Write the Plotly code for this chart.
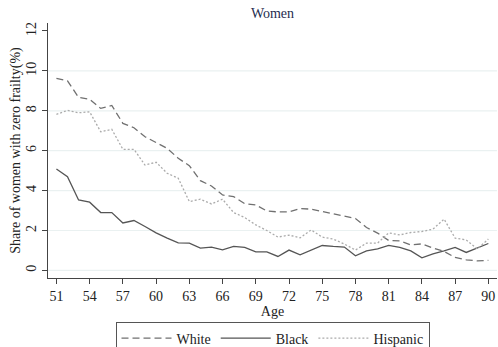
import plotly.graph_objects as go

ages = list(range(51, 91))

white = [9.62, 9.50, 8.67, 8.58, 8.12, 8.27, 7.37, 7.15, 6.70, 6.42,
         6.12, 5.62, 5.25, 4.50, 4.23, 3.78, 3.70, 3.35, 3.28, 2.98,
         2.93, 2.93, 3.10, 3.07, 2.95, 2.82, 2.70, 2.60, 2.15, 1.87,
         1.50, 1.48, 1.28, 1.33, 1.12, 0.95, 0.65, 0.53, 0.48, 0.50]

black = [5.08, 4.70, 3.53, 3.42, 2.90, 2.90, 2.38, 2.50, 2.20, 1.88,
         1.62, 1.38, 1.37, 1.12, 1.17, 1.03, 1.20, 1.15, 0.93, 0.93,
         0.70, 1.02, 0.78, 1.02, 1.25, 1.20, 1.17, 0.73, 0.98, 1.08,
         1.25, 1.15, 0.98, 0.63, 0.83, 0.98, 1.15, 0.90, 1.12, 1.35]

hispanic = [7.82, 8.02, 7.90, 7.95, 6.95, 7.07, 6.07, 6.07, 5.28, 5.42,
            4.87, 4.62, 3.45, 3.57, 3.33, 3.57, 2.90, 2.65, 2.28, 2.00,
            1.67, 1.77, 1.63, 2.03, 1.67, 1.57, 1.32, 1.02, 1.37, 1.37,
            1.88, 1.78, 1.90, 1.95, 2.07, 2.57, 1.62, 1.53, 1.08, 1.57]

x_ticks = list(range(51, 91, 3))
y_ticks = [0, 2, 4, 6, 8, 10, 12]
grid_levels = [0, 2, 4, 6, 8, 10]

FONT = "Liberation Serif, Times New Roman, serif"

fig = go.Figure()
fig.add_trace(go.Scatter(x=ages, y=white, mode="lines", name="White",
                         line=dict(color="#707070", width=1.3, dash="7px,4px")))
fig.add_trace(go.Scatter(x=ages, y=black, mode="lines", name="Black",
                         line=dict(color="#555555", width=1.3)))
fig.add_trace(go.Scatter(x=ages, y=hispanic, mode="lines", name="Hispanic",
                         line=dict(color="#ababab", width=1.3, dash="2px,2px")))

# light horizontal grid lines behind the data
for g in grid_levels:
    fig.add_shape(type="line", xref="paper", x0=0, x1=1, yref="y", y0=g, y1=g,
                  line=dict(color="#eaf1f1", width=1.2), layer="below")

fig.update_layout(
    width=498, height=347,
    margin=dict(l=48, r=1, t=23, b=69, autoexpand=False),
    paper_bgcolor="white", plot_bgcolor="white",
    font=dict(family=FONT, size=14, color="#222222"),
    title=dict(text="Women", x=0.5, xref="paper", xanchor="center",
               y=1 - 13 / 347, yanchor="middle",
               font=dict(family=FONT, size=14, color="#1f2d50")),
    showlegend=True,
    legend=dict(orientation="h", x=0.5, xanchor="center", y=-0.171, yanchor="top",
                bordercolor="#555555", borderwidth=1, bgcolor="white",
                font=dict(family=FONT, size=14, color="#222222"),
                itemwidth=50, traceorder="normal"),
    xaxis=dict(range=[50.24, 90.78], tickvals=x_ticks, ticks="outside", ticklen=5,
               tickcolor="#444444", showline=True, linecolor="#444444", linewidth=1,
               showgrid=False, zeroline=False,
               title=dict(text="Age", standoff=2, font=dict(family=FONT, size=14))),
    yaxis=dict(range=[-0.38, 12.4], tickvals=y_ticks, ticks="outside", ticklen=5,
               tickcolor="#444444", showline=True, linecolor="#444444", linewidth=1,
               tickangle=-90, showgrid=False, zeroline=False,
               title=dict(text="Share of women with zero frailty(%)", standoff=0,
                          font=dict(family=FONT, size=14))),
)

fig.write_html("out.html")
